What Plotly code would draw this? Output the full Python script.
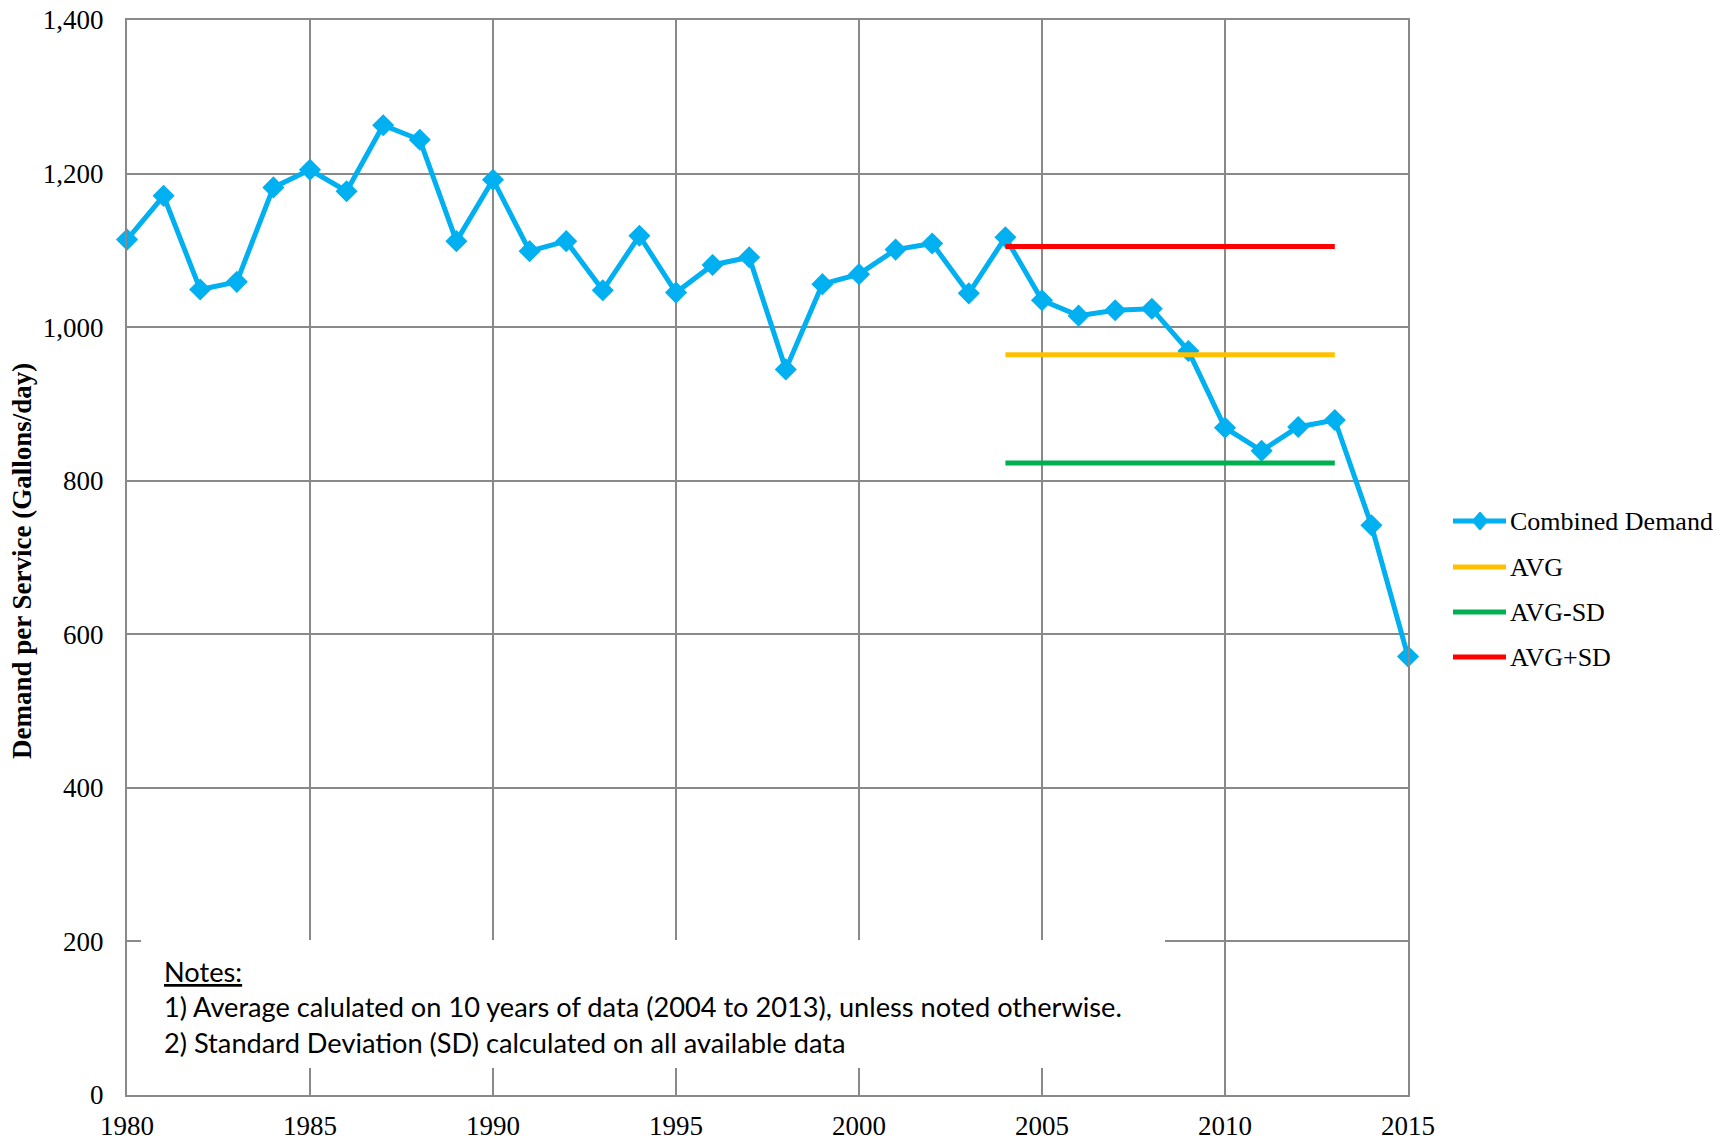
import plotly.graph_objects as go

years = list(range(1980, 2016))
demand = [1114, 1171, 1049, 1059, 1182, 1205, 1177, 1263, 1244, 1112,
          1192, 1099, 1112, 1048, 1119, 1045, 1081, 1091, 945, 1056,
          1069, 1101, 1109, 1044, 1117, 1035, 1015, 1022, 1024, 969,
          869, 839, 870, 879, 742, 571]
stat_years = [2004, 2013]
avg_val = 964
avg_minus_sd = 823
avg_plus_sd = 1105

series_names = ["Combined Demand", "AVG", "AVG-SD", "AVG+SD"]
series_colors = ["#00B0F0", "#FFC000", "#00B050", "#FF0000"]

x_ticks = [1980, 1985, 1990, 1995, 2000, 2005, 2010, 2015]
y_ticks = [0, 200, 400, 600, 800, 1000, 1200, 1400]

grid = "#898989"
serif = "Liberation Serif, Times New Roman, serif"

fig = go.Figure()
fig.add_trace(go.Scatter(x=years, y=demand, mode="lines+markers", name=series_names[0],
                         line=dict(color=series_colors[0], width=5),
                         marker=dict(symbol="diamond", size=17, color=series_colors[0]),
                         cliponaxis=False))
for name, col, val in zip(series_names[1:], series_colors[1:],
                          [avg_val, avg_minus_sd, avg_plus_sd]):
    fig.add_trace(go.Scatter(x=stat_years, y=[val] * 2, mode="lines", name=name,
                             line=dict(color=col, width=5)))

# page body has an 8px margin, so the figure is sized/offset to compensate
W, H = 1716, 1134
L, T, R, B = 119, 12, 316, 47
PW, PH = W - L - R, H - T - B


def px(xpage):
    return (xpage - 8 - L) / PW


def py(ypage):
    return (T + PH - (ypage - 8)) / PH


fig.update_layout(
    width=W, height=H,
    margin=dict(l=L, r=R, t=T, b=B, autoexpand=False),
    paper_bgcolor="white", plot_bgcolor="white",
    font=dict(family=serif, size=27, color="black"),
    showlegend=False,
    xaxis=dict(range=[1980, 2015], tickvals=x_ticks, showgrid=True, gridcolor=grid,
               gridwidth=2, showline=True, linecolor=grid, linewidth=2, mirror=True,
               ticks="outside", ticklen=6, tickcolor="rgba(0,0,0,0)", zeroline=False,
               automargin=False, ticklabeloverflow="allow",
               tickfont=dict(family=serif, size=27)),
    yaxis=dict(range=[0, 1400], tickvals=y_ticks, tickformat=",", showgrid=True,
               gridcolor=grid, gridwidth=2, showline=True, linecolor=grid, linewidth=2,
               mirror=True, ticks="outside", ticklen=16, tickcolor="rgba(0,0,0,0)",
               zeroline=False, automargin=False, ticklabeloverflow="allow",
               tickfont=dict(family=serif, size=27)),
)

# legend (drawn manually to match the long sample lines)
leg_y = [521, 567, 612, 657]
for i, (name, col, yy) in enumerate(zip(series_names, series_colors, leg_y)):
    fig.add_shape(type="line", xref="paper", yref="paper",
                  x0=px(1453), x1=px(1506), y0=py(yy), y1=py(yy),
                  line=dict(color=col, width=5), layer="above")
    if i == 0:
        fig.add_shape(type="path", xref="paper", yref="paper",
                      xsizemode="pixel", ysizemode="pixel",
                      xanchor=px(1480), yanchor=py(yy),
                      path="M-8,0 L0,9 L8,0 L0,-9 Z",
                      fillcolor=col, line=dict(color=col, width=1), layer="above")
    fig.add_annotation(text=name, xref="paper", yref="paper", x=px(1508), y=py(yy),
                       xanchor="left", yanchor="middle", showarrow=False,
                       font=dict(family=serif, size=26, color="black"))

fig.add_annotation(text="<b>Demand per Service (Gallons/day)</b>", xref="paper", yref="paper",
                   x=-105 / PW, y=(1095 - 561) / 1075, textangle=-90, showarrow=False,
                   font=dict(family=serif, size=27), xanchor="center", yanchor="middle")

# Notes box
fig.add_shape(type="rect", xref="paper", yref="paper",
              x0=14 / PW, x1=1038 / PW,
              y0=(1095 - 1068) / 1075, y1=(1095 - 940) / 1075,
              fillcolor="white", line=dict(width=0), layer="above")

notes_font = dict(family="Lato, Carlito, Open Sans, sans-serif", size=27.2, color="black")
notes = ["<u>Notes:</u>",
         "1) Average calulated on 10 years of data (2004 to 2013), unless noted otherwise.",
         "2) Standard Deviation (SD) calculated on all available data"]
ys = [971, 1006, 1042]
for t, yy in zip(notes, ys):
    fig.add_annotation(text=t, xref="paper", yref="paper", x=35 / PW,
                       y=(1095 - yy) / 1075, xanchor="left", yanchor="middle",
                       showarrow=False, font=notes_font)

fig.write_html("out.html")
